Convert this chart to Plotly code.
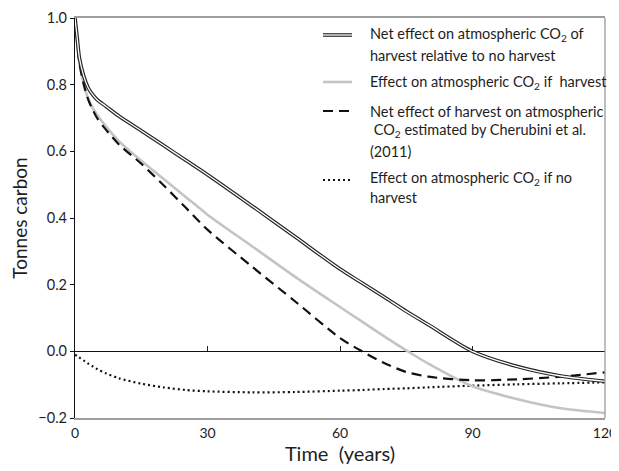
import plotly.graph_objects as go

# ---------------- data ----------------
years = [0, 0.5, 1, 2, 3, 4, 5, 7, 10, 15, 20, 25, 30, 40, 50, 60, 65, 70, 75, 80, 90, 100, 110, 120]

net_effect = [1.0, 0.94, 0.88, 0.825, 0.79, 0.77, 0.755, 0.735, 0.705, 0.662, 0.618, 0.574, 0.53,
              0.437, 0.342, 0.247, 0.205, 0.163, 0.12, 0.08, 0.0, -0.045, -0.074, -0.09]

if_harvest = [1.0, 0.93, 0.865, 0.80, 0.757, 0.73, 0.71, 0.675, 0.63, 0.572, 0.518, 0.464, 0.41,
              0.316, 0.222, 0.133, 0.089, 0.045, 0.003, -0.037, -0.105, -0.143, -0.171, -0.185]

cherubini = [1.0, 0.93, 0.865, 0.80, 0.755, 0.725, 0.70, 0.665, 0.62, 0.563, 0.499, 0.432, 0.365,
             0.255, 0.148, 0.04, 0.0, -0.035, -0.062, -0.076, -0.087, -0.084, -0.076, -0.063]

no_harvest = [-0.01, -0.014, -0.019, -0.028, -0.037, -0.045, -0.053, -0.066, -0.081, -0.097, -0.108,
              -0.116, -0.12, -0.123, -0.122, -0.118, -0.116, -0.113, -0.111, -0.108, -0.103,
              -0.099, -0.096, -0.093]

x_ticks = [0, 30, 60, 90, 120]
y_ticks = [-0.2, 0.0, 0.2, 0.4, 0.6, 0.8, 1.0]
zero_ticks = [30, 60, 90]

NB = "\u00a0"
legend_lines = [
    ["Net effect on atmospheric CO<sub>2</sub> of", "harvest relative to no harvest"],
    ["Effect on atmospheric CO<sub>2</sub> if" + NB + NB + "harvest"],
    ["Net effect of harvest on atmospheric", NB + "CO<sub>2</sub> estimated by Cherubini et al.", "(2011)"],
    ["Effect on atmospheric CO<sub>2</sub> if no", "harvest"],
]
x_title = "Time" + NB + NB + "(years)"
y_title = "Tonnes carbon"

# ---------------- figure ----------------
OFF = 8                      # page body margin offset
W, H = 619 - OFF, 471 - OFF
ML, MR, MT, MB = 75 - OFF, 14, 18 - OFF, 53
PW, PH = W - ML - MR, H - MT - MB
FONT = "Lato"
TXT = "#1e1e1e"


def xp(px):
    return (px - OFF - ML) / PW


def yp(py):
    return (H - MB - (py - OFF)) / PH


fig = go.Figure()
spl = dict(shape="spline", smoothing=0.8)

fig.add_trace(go.Scatter(x=years, y=no_harvest, mode="lines", showlegend=False,
                         line=dict(color="#111", width=2.2, dash="2px,3px", **spl)))
fig.add_trace(go.Scatter(x=years, y=if_harvest, mode="lines", showlegend=False,
                         line=dict(color="#c4c4c4", width=2.6, **spl)))
fig.add_trace(go.Scatter(x=years, y=cherubini, mode="lines", showlegend=False,
                         line=dict(color="#111", width=2.2, dash="10px,6px", **spl)))
fig.add_trace(go.Scatter(x=years, y=net_effect, mode="lines", showlegend=False,
                         line=dict(color="#222", width=3.6, **spl)))
fig.add_trace(go.Scatter(x=years, y=net_effect, mode="lines", showlegend=False,
                         line=dict(color="white", width=1.3, **spl)))

# ---------- manual legend ----------
sw0, sw1, tx = xp(323), xp(352), xp(368)
line_y = [[35, 55], [83], [111, 131, 151], [178, 198]]
swatch_y = [35, 82, 111, 180]
swatch_styles = [
    [dict(color="#222", width=3.6), dict(color="white", width=1.3)],
    [dict(color="#c4c4c4", width=2.6)],
    [dict(color="#111", width=2.2, dash="10px,6px")],
    [dict(color="#111", width=2.2, dash="2px,3px")],
]
shapes = []
annotations = []
for lines, ys, sy, styles in zip(legend_lines, line_y, swatch_y, swatch_styles):
    for st in styles:
        shapes.append(dict(type="line", xref="paper", yref="paper", x0=sw0, x1=sw1,
                           y0=yp(sy), y1=yp(sy), line=st))
    for txt, y in zip(lines, ys):
        annotations.append(dict(text=txt, xref="paper", yref="paper", x=tx, y=yp(y),
                                xanchor="left", yanchor="middle", showarrow=False,
                                font=dict(family=FONT, size=14.5, color=TXT)))

# right frame line
shapes.append(dict(type="line", xref="paper", yref="paper", x0=1, x1=1, y0=0, y1=1,
                   line=dict(color="#9a9a9a", width=1.3)))

fig.update_layout(
    width=W, height=H,
    margin=dict(l=ML, r=MR, t=MT, b=MB, pad=0, autoexpand=False),
    paper_bgcolor="white", plot_bgcolor="white",
    font=dict(family=FONT, size=15, color=TXT),
    showlegend=False,
    shapes=shapes,
    annotations=annotations,
    xaxis=dict(range=[0, 120], tickvals=x_ticks, ticktext=[str(v) for v in x_ticks],
               tickfont=dict(size=14), ticklabeloverflow="allow",
               showgrid=False, zeroline=False, showline=True, linecolor="#9f9f9f",
               linewidth=1.5, mirror=True, ticks="", ticklabelstandoff=1, automargin=False,
               title=dict(text=x_title, font=dict(size=20, family=FONT, color=TXT),
                          standoff=7)),
    xaxis2=dict(range=[0, 120], overlaying="x", matches="x", anchor="free", position=1 / 6,
                side="bottom", tickvals=zero_ticks, ticks="inside", ticklen=5, tickcolor="#222",
                tickwidth=1, showticklabels=False, showline=False, showgrid=False, zeroline=False,
                automargin=False),
    yaxis=dict(range=[-0.2, 1.0], tickvals=y_ticks, tickformat=".1f", automargin=False,
               tickfont=dict(size=14.5),
               showgrid=False, zeroline=True, zerolinecolor="#111", zerolinewidth=1.2,
               showline=True, linecolor="#111", linewidth=1.2,
               ticks="outside", ticklen=4, tickcolor="#111",
               title=dict(text=y_title, font=dict(size=19, family=FONT, color=TXT),
                          standoff=6)),
)

# invisible trace so xaxis2 is drawn
fig.add_trace(go.Scatter(x=[0, 120], y=[0, 0], xaxis="x2", mode="lines",
                         line=dict(width=0), hoverinfo="skip", showlegend=False, opacity=0))

fig.write_html(
    "out.html",
    post_script="document.documentElement.style.overflow='hidden';"
                "document.body.style.overflow='hidden';",
)
